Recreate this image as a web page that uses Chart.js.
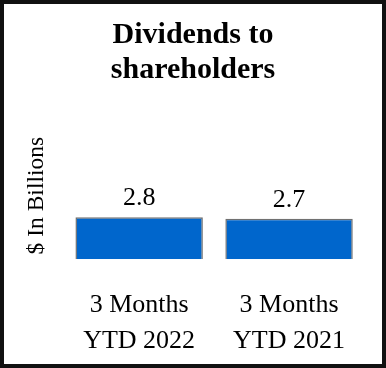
<!DOCTYPE html>
<html>
<head>
<meta charset="utf-8">
<script src="https://cdn.jsdelivr.net/npm/chart.js@4/dist/chart.umd.min.js"></script>
<style>
  body { margin: 0; background: #fff; }
  .box { width: 386px; height: 368px; box-sizing: border-box; border: 4px solid #111; }
  .box canvas { display: block; }
</style>
</head>
<body>
<div class="box"><canvas class="my-chart" width="378" height="360"></canvas></div>
<script>
const categorie = [['3 Months', 'YTD 2022'], ['3 Months', 'YTD 2021']]
const dividendi = [2.8, 2.7]
const etichette = ['2.8', '2.7']

// value labels above the bars
const valoriSopra = {
    id: 'valoriSopra',
    afterDatasetsDraw(chart) {
        const ctx = chart.ctx
        const meta = chart.getDatasetMeta(0)
        ctx.save()
        ctx.font = '26px "Liberation Serif"'
        ctx.fillStyle = '#000'
        ctx.textAlign = 'center'
        ctx.textBaseline = 'alphabetic'
        meta.data.forEach((bar, i) => {
            ctx.fillText(etichette[i], bar.x, bar.y - 12)
        })
        ctx.restore()
    }
}

const myChart = document.querySelector('.my-chart');
new Chart(myChart, {
    type: 'bar',
    data: {
        labels: categorie,
        datasets: [{
            data: dividendi,
            backgroundColor: '#0066cc',
            borderColor: '#707070',
            borderWidth: 1.5,
            barPercentage: 0.85,
            categoryPercentage: 1
        }]
    },
    options: {
        responsive: false,
        animation: false,
        layout: { padding: { left: 18, right: 18, bottom: -23 } },
        plugins: {
            legend: { display: false },
            tooltip: { enabled: false },
            title: {
                display: true,
                text: ['Dividends to', 'shareholders'],
                color: '#000',
                font: { family: 'Liberation Serif', size: 30, weight: 'bold', lineHeight: 1.15 },
                padding: { top: 14, bottom: 45 }
            }
        },
        scales: {
            x: {
                grid: { display: false, drawTicks: false },
                border: { display: false },
                ticks: {
                    color: '#000',
                    padding: 28,
                    font: { family: 'Liberation Serif', size: 26, lineHeight: 1.38 }
                }
            },
            y: {
                min: 0,
                max: 8.5,
                grid: { display: false, drawTicks: false },
                border: { display: false },
                ticks: { display: false },
                title: {
                    display: true,
                    text: '$ In Billions',
                    color: '#000',
                    font: { family: 'Liberation Serif', size: 23.5 },
                    padding: { top: 1, bottom: 13 }
                }
            }
        }
    },
    plugins: [valoriSopra]
});
</script>
</body>
</html>
